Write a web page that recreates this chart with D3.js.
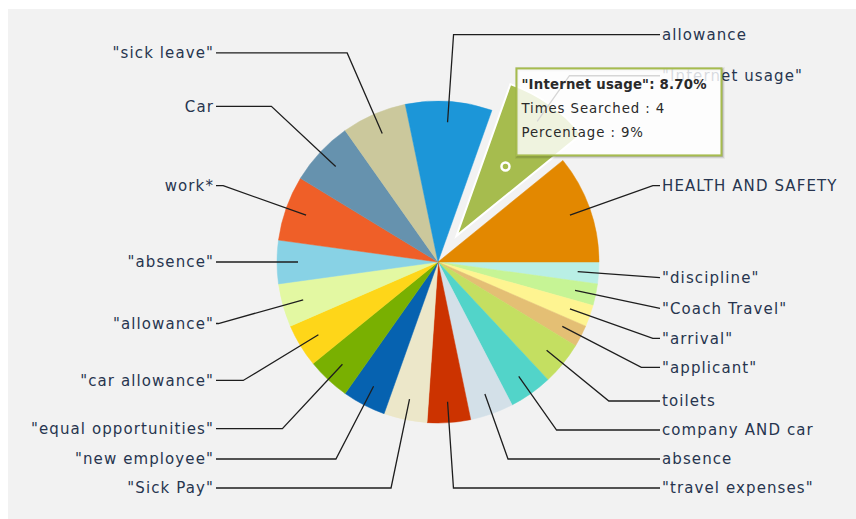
<!DOCTYPE html>
<html>
<head>
<meta charset="utf-8">
<script src="https://cdn.jsdelivr.net/npm/d3@7"></script>
<style>
  html, body { margin: 0; padding: 0; background: #fff; }
  svg { display: block; font-family: "DejaVu Sans", Verdana, sans-serif; }
</style>
</head>
<body>
<div id="chart"></div>
<script>
// slices in drawing order, clockwise from 3 o'clock
var categories = [
  '"discipline"', '"Coach Travel"', '"arrival"', '"applicant"', 'toilets',
  'company AND car', 'absence', '"travel expenses"', '"Sick Pay"', '"new employee"',
  '"equal opportunities"', '"car allowance"', '"allowance"', '"absence"', 'work*',
  'Car', '"sick leave"', 'allowance', '"Internet usage"', 'HEALTH AND SAFETY'
];
var timesSearched = [1, 1, 1, 1, 2, 2, 2, 2, 2, 2, 2, 2, 2, 2, 3, 3, 3, 4, 4, 5];
var sliceColors = [
  '#b9efe5', '#c6f495', '#fef491', '#e4bf74', '#c4df61',
  '#52d4c9', '#d3e0e8', '#cc3300', '#ece7c9', '#0662b0',
  '#79b001', '#fed619', '#e3f8a2', '#88d2e5', '#ef5f28',
  '#6692ae', '#cbc89c', '#1c96d8', '#a6bc4e', '#e38800'
];
var hoverCategory = '"Internet usage"';

(function() {
  var width = 856, height = 519;
  var cx = 438, cy = 262, radius = 161;
  var explodeBy = 32, innerLabelR = 140, labelR = 228;
  var lineEndDx = 222, textDx = 224, labelGap = 29, labelBottom = 488, labelTop = 20;
  var labelColor = '#27354f';

  var svg = d3.select('#chart').append('svg')
      .attr('width', width)
      .attr('height', height);

  svg.append('rect')
      .attr('x', 8).attr('y', 9)
      .attr('width', width - 8).attr('height', height - 9)
      .attr('fill', '#f2f2f2');

  var total = d3.sum(timesSearched);
  var data = categories.map(function(c, i) {
    return {name: c, value: timesSearched[i], color: sliceColors[i]};
  });

  var pie = d3.pie()
      .sort(null)
      .value(function(d) { return d.value; })
      .startAngle(Math.PI / 2)
      .endAngle(Math.PI / 2 + 2 * Math.PI);
  var arc = d3.arc().innerRadius(0).outerRadius(radius);
  var arcs = pie(data);

  arcs.forEach(function(d) {
    d.mid = (d.startAngle + d.endAngle) / 2;
    d.dx = Math.sin(d.mid);
    d.dy = -Math.cos(d.mid);
    d.hover = d.data.name === hoverCategory;
    d.ox = d.hover ? explodeBy * d.dx : 0;
    d.oy = d.hover ? explodeBy * d.dy : 0;
    d.side = d.dx >= 0 ? 1 : -1;
    d.ly = cy + labelR * d.dy;
  });

  // push labels apart on each side
  [1, -1].forEach(function(side) {
    var list = arcs.filter(function(d) { return d.side === side; })
        .sort(function(a, b) { return a.ly - b.ly; });
    var prev = labelTop - labelGap;
    list.forEach(function(d) {
      d.ly = Math.max(d.ly, prev + labelGap);
      prev = d.ly;
    });
    var next = labelBottom + labelGap;
    for (var i = list.length - 1; i >= 0; i--) {
      list[i].ly = Math.min(list[i].ly, next - labelGap);
      next = list[i].ly;
    }
  });

  var g = svg.append('g').attr('transform', 'translate(' + cx + ',' + cy + ')');

  g.selectAll('path.slice')
      .data(arcs)
    .enter().append('path')
      .attr('class', 'slice')
      .attr('transform', function(d) { return 'translate(' + d.ox + ',' + d.oy + ')'; })
      .attr('d', arc)
      .attr('fill', function(d) { return d.data.color; })
      .attr('stroke', function(d) { return d.hover ? '#fff' : d.data.color; })
      .attr('stroke-width', function(d) { return d.hover ? 2 : 0.5; });

  // leader lines
  var line = d3.line();
  g.selectAll('path.leader')
      .data(arcs)
    .enter().append('path')
      .attr('class', 'leader')
      .attr('fill', 'none')
      .attr('stroke', '#1e1e1e')
      .attr('stroke-width', 1.3)
      .attr('d', function(d) {
        var sx = d.ox + innerLabelR * d.dx, sy = d.oy + innerLabelR * d.dy;
        var ty = d.ly - cy;
        var endX = d.side * lineEndDx;
        var ex = endX;
        if (Math.abs(d.dy) > 0.02) {
          var t = (ty - d.oy) / d.dy;
          ex = d.ox + t * d.dx;
          if (d.side * ex > lineEndDx) ex = endX;
        }
        return line([[sx, sy], [ex, ty], [endX, ty]]);
      });

  g.selectAll('text.label')
      .data(arcs)
    .enter().append('text')
      .attr('class', 'label')
      .attr('x', function(d) { return d.side * textDx; })
      .attr('y', function(d) { return d.ly - cy; })
      .attr('dy', '0.36em')
      .attr('text-anchor', function(d) { return d.side > 0 ? 'start' : 'end'; })
      .style('font-size', '15px')
      .style('letter-spacing', '1.1px')
      .attr('fill', labelColor)
      .text(function(d) { return d.data.name; });

  // hover marker + tooltip
  var hov = arcs.filter(function(d) { return d.hover; })[0];
  var mx = hov.ox + 85 * hov.dx, my = hov.oy + 85 * hov.dy;
  g.append('circle')
      .attr('cx', mx).attr('cy', my).attr('r', 4)
      .attr('fill', 'none')
      .attr('stroke', '#fff')
      .attr('stroke-width', 2.5);

  var tipX = mx + 11, tipY = my - 98, tipW = 205, tipH = 87;
  var tip = g.append('g').attr('transform', 'translate(' + tipX + ',' + tipY + ')');
  [5, 3, 1].forEach(function(w, i) {
    tip.append('rect')
        .attr('x', 1).attr('y', 1)
        .attr('width', tipW).attr('height', tipH)
        .attr('fill', 'none')
        .attr('stroke', '#000')
        .attr('stroke-opacity', 0.05 * (i + 1))
        .attr('stroke-width', w);
  });
  tip.append('rect')
      .attr('width', tipW).attr('height', tipH)
      .attr('fill', 'rgba(255,255,255,0.82)')
      .attr('stroke', hov.data.color)
      .attr('stroke-width', 2);

  var pct = hov.data.value / total * 100;
  var tipLines = [
    {text: hov.data.name + ': ' + pct.toFixed(2) + '%', bold: true, spacing: 0.2},
    {text: 'Times Searched : ' + hov.data.value, bold: false, spacing: 0.9},
    {text: 'Percentage : ' + Math.round(pct) + '%', bold: false, spacing: 0.9}
  ];
  tip.selectAll('text')
      .data(tipLines)
    .enter().append('text')
      .attr('x', 5)
      .attr('y', function(d, i) { return 21 + i * 24; })
      .style('font-size', '13.3px')
      .style('font-weight', function(d) { return d.bold ? 'bold' : 'normal'; })
      .style('letter-spacing', function(d) { return d.spacing + 'px'; })
      .attr('fill', '#2a2a2a')
      .text(function(d) { return d.text; });
})();
</script>
</body>
</html>
